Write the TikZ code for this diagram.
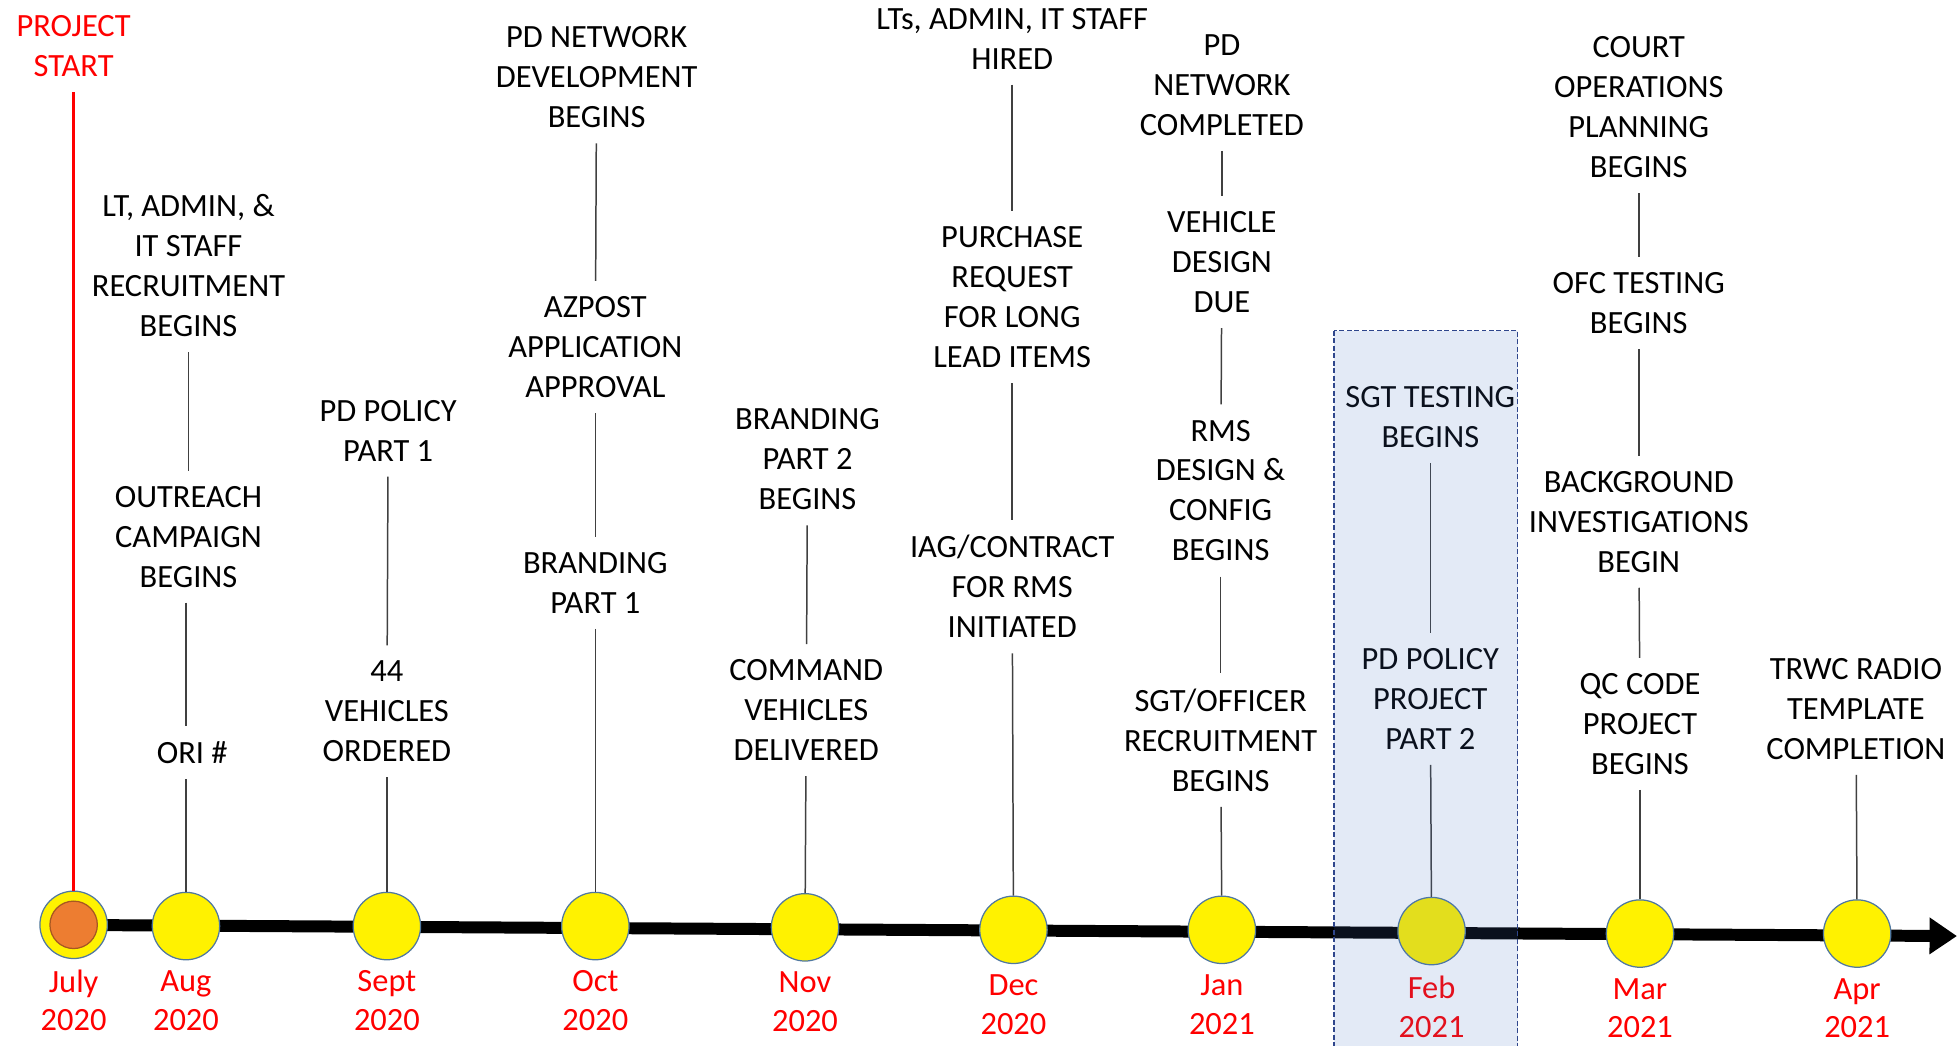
\documentclass[tikz,border=0pt]{standalone}
\usepackage{fontspec}
\setmainfont{Carlito}
\usetikzlibrary{arrows.meta,positioning}

\definecolor{contorno}{RGB}{80,120,160}
\definecolor{laranja}{RGB}{237,125,49}
\definecolor{realce}{RGB}{68,114,196}
\definecolor{tracejado}{RGB}{47,70,140}

\begin{document}
\begin{tikzpicture}[x=0.5pt, y=-0.5pt,
    evento/.style={align=center, inner sep=6pt, font=\fontsize{13}{16}\selectfont},
    data/.style={align=center, text=red, inner sep=0pt, font=\fontsize{13}{15.5}\selectfont},
    marco/.style={circle, draw=contorno, fill=yellow, line width=0.5pt, minimum size=27pt, inner sep=0pt},
    liga/.style={black!75, line width=0.6pt}]
    \useasboundingbox (0,0) rectangle (1568,838);

    % Linha do tempo
    \coordinate (ini) at (40,741);
    \coordinate (fim) at (1568,750);
    \draw[line width=4.8pt, -{Triangle[length=11pt,width=14pt]}] (ini) -- (fim);

    % Marcos (meses)
    \node[marco] (jul) at (59,741) {};
    \node[circle, draw=laranja!70!black, fill=laranja, line width=0.5pt, minimum size=19pt, inner sep=0pt] (julin) at (jul) {};
    \node[marco] (ago) at (149,742) {};
    \node[marco] (set) at (310,742) {};
    \node[marco] (out) at (477,742) {};
    \node[marco] (nov) at (645,743) {};
    \node[marco] (dez) at (812,745) {};
    \node[marco] (jan) at (979,745) {};
    \node[marco] (fev) at (1147,746) {};
    \node[marco] (mar) at (1314,748) {};
    \node[marco] (abr) at (1488,748) {};

    % Datas
    \node[data, below=4pt of jul] {July\\2020};
    \node[data, below=4pt of ago] {Aug\\2020};
    \node[data, below=4pt of set] {Sept\\2020};
    \node[data, below=4pt of out] {Oct\\2020};
    \node[data, below=4pt of nov] {Nov\\2020};
    \node[data, below=4pt of dez] {Dec\\2020};
    \node[data, below=4pt of jan] {Jan\\2021};
    \node[data, below=4pt of fev] {Feb\\2021};
    \node[data, below=4pt of mar] {Mar\\2021};
    \node[data, below=4pt of abr] {Apr\\2021};

    % Inicio do projeto
    \node[evento, text=red] (inicio) at (59,37) {PROJECT\\START};
    \draw[red, line width=1pt] (inicio) -- (jul);

    % Agosto
    \node[evento] (ago1) at (151,213) {LT, ADMIN, \&\\IT STAFF\\RECRUITMENT\\BEGINS};
    \node[evento] (ago2) at (151,430) {OUTREACH\\CAMPAIGN\\BEGINS};
    \node[evento] (ago3) at (154,603) {ORI \#};
    \draw[liga] (ago1) -- (ago2);
    \draw[liga] (ago2.south -| ago) -- (ago3.north -| ago);
    \draw[liga] (ago3.south -| ago) -- (ago);

    % Setembro
    \node[evento] (set1) at (311,345) {PD POLICY\\PART 1};
    \node[evento] (set2) at (310,570) {44\\VEHICLES\\ORDERED};
    \draw[liga] (set1) -- (set2);
    \draw[liga] (set2) -- (set);

    % Outubro
    \node[evento] (out1) at (478,62) {PD NETWORK\\DEVELOPMENT\\BEGINS};
    \node[evento] (out2) at (477,278) {AZPOST\\APPLICATION\\APPROVAL};
    \node[evento] (out3) at (477,467) {BRANDING\\PART 1};
    \draw[liga] (out1) -- (out2);
    \draw[liga] (out2) -- (out3);
    \draw[liga] (out3) -- (out);

    % Novembro
    \node[evento] (nov1) at (647,368) {BRANDING\\PART 2\\BEGINS};
    \node[evento] (nov2) at (646,569) {COMMAND\\VEHICLES\\DELIVERED};
    \draw[liga] (nov1) -- (nov2);
    \draw[liga] (nov2) -- (nov);

    % Dezembro
    \node[evento] (dez1) at (811,31) {LTs, ADMIN, IT STAFF\\HIRED};
    \node[evento] (dez2) at (811,238) {PURCHASE\\REQUEST\\FOR LONG\\LEAD ITEMS};
    \node[evento] (dez3) at (811,470) {IAG/CONTRACT\\FOR RMS\\INITIATED};
    \draw[liga] (dez1) -- (dez2);
    \draw[liga] (dez2) -- (dez3);
    \draw[liga] (dez3) -- (dez);

    % Janeiro
    \node[evento] (jan1) at (979,68) {PD\\NETWORK\\COMPLETED};
    \node[evento] (jan2) at (979,210) {VEHICLE\\DESIGN\\DUE};
    \node[evento] (jan3) at (978,393) {RMS\\DESIGN \&\\CONFIG\\BEGINS};
    \node[evento] (jan4) at (978,593) {SGT/OFFICER\\RECRUITMENT\\BEGINS};
    \draw[liga] (jan1) -- (jan2);
    \draw[liga] (jan2) -- (jan3);
    \draw[liga] (jan3) -- (jan4);
    \draw[liga] (jan4) -- (jan);

    % Fevereiro
    \node[evento] (fev1) at (1146,334) {SGT TESTING\\BEGINS};
    \node[evento] (fev2) at (1146,560) {PD POLICY\\PROJECT\\PART 2};
    \draw[liga] (fev1) -- (fev2);
    \draw[liga] (fev2) -- (fev);

    % Marco
    \node[evento] (mar1) at (1313,86) {COURT\\OPERATIONS\\PLANNING\\BEGINS};
    \node[evento] (mar2) at (1313,243) {OFC TESTING\\BEGINS};
    \node[evento] (mar3) at (1313,418) {BACKGROUND\\INVESTIGATIONS\\BEGIN};
    \node[evento] (mar4) at (1314,580) {QC CODE\\PROJECT\\BEGINS};
    \draw[liga] (mar1) -- (mar2);
    \draw[liga] (mar2) -- (mar3);
    \draw[liga] (mar3) -- (mar4);
    \draw[liga] (mar4) -- (mar);

    % Abril
    \node[evento] (abr1) at (1487,568) {TRWC RADIO\\TEMPLATE\\COMPLETION};
    \draw[liga] (abr1) -- (abr);

    % Destaque de fevereiro
    \fill[realce, fill opacity=0.15] (1069,265) rectangle (1216,842);
    \draw[tracejado, line width=0.6pt, dash pattern=on 2pt off 1pt] (1069,265) rectangle (1216,842);
\end{tikzpicture}
\end{document}
